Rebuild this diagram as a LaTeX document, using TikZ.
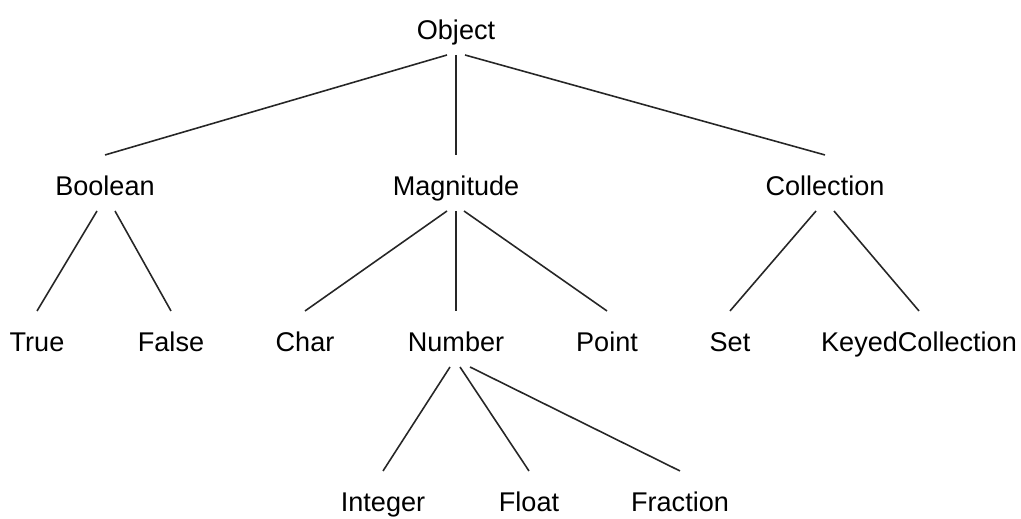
\documentclass[tikz,border=0pt]{standalone}
\usepackage{fontspec}
\setmainfont{Liberation Sans}
\usepackage{tikz}

\begin{document}
\begin{tikzpicture}[x=0.01cm, y=-0.01cm,
    cls/.style={anchor=base, font=\fontsize{7.7}{9}\selectfont,
        text height=0.26cm, text depth=0pt, inner xsep=0pt, inner ysep=0.15cm, outer sep=0pt},
    edge/.style={black!85, line width=0.45pt}]
\useasboundingbox (0,0) rectangle (1021,519);
% classes
\node[cls] (Object)     at (456,40)  {Object};
\node[cls] (Boolean)    at (105,196) {Boolean};
\node[cls] (Magnitude)  at (456,196) {Magnitude};
\node[cls] (Collection) at (825,196) {Collection};
\node[cls] (True)       at (37,352)  {True};
\node[cls] (False)      at (171,352) {False};
\node[cls] (Char)       at (305,352) {Char};
\node[cls] (Number)     at (456,352) {Number};
\node[cls] (Point)      at (607,352) {Point};
\node[cls] (Set)        at (730,352) {Set};
\node[cls] (Keyed)      at (919,352) {KeyedCollection};
\node[cls] (Integer)    at (383,512) {Integer};
\node[cls] (Float)      at (529,512) {Float};
\node[cls] (Fraction)   at (680,512) {Fraction};
% subclass links
\foreach \from/\dx/\to in {Object/-9/Boolean, Object/0/Magnitude, Object/9/Collection,
    Boolean/-8/True, Boolean/10/False,
    Magnitude/-9/Char, Magnitude/0/Number, Magnitude/8/Point,
    Collection/-9/Set, Collection/9/Keyed,
    Number/-6/Integer, Number/4/Float, Number/14/Fraction}{
    \draw[edge] ([xshift=\dx*0.01cm]\from.south) -- (\to.north);
}
\end{tikzpicture}
\end{document}
